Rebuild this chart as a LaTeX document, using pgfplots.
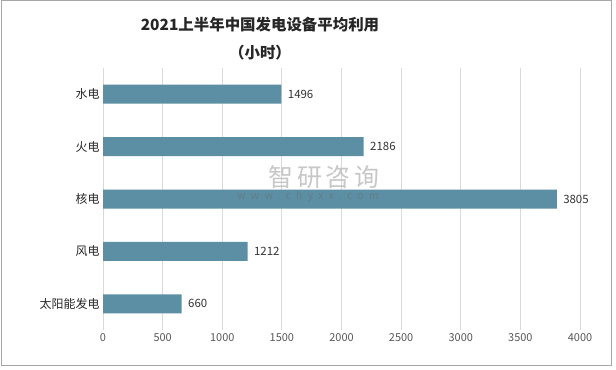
\documentclass[border=0pt]{standalone}
\usepackage{fontspec}
\setmainfont{Carlito}
\newfontfamily\cjk{Noto Sans CJK SC}
\newfontfamily\wm[LetterSpace=14]{Noto Sans CJK SC}
\newfontfamily\wmb[LetterSpace=50]{Noto Sans CJK SC}
\usepackage{pgfplots}
\pgfplotsset{compat=1.18}
\definecolor{barc}{HTML}{5D8FA4}
\definecolor{gridc}{HTML}{D9D9D9}
\definecolor{txt}{HTML}{595959}
\begin{document}
\begin{tikzpicture}[x=1bp,y=1bp]
\useasboundingbox (0,0) rectangle (616,369);
\fill[white] (0,0) rectangle (616,369);
\draw[draw=black!35, line width=1bp] (1,4) rectangle (611,368);
\node[font=\cjk\bfseries\fontsize{15.5}{18}\selectfont, text=black!85] at (260,344) {2021上半年中国发电设备平均利用};
\node[font=\cjk\bfseries\fontsize{15.5}{18}\selectfont, text=black!85] at (260,316) {（小时）};
\begin{axis}[
  at={(103bp,39bp)}, anchor=south west, scale only axis,
  width=477bp, height=262bp,
  xmin=0, xmax=4000, ymin=-0.5, ymax=4.5, y dir=reverse,
  xbar, bar width=19bp,
  xtick={0,500,...,4000}, ytick={0,1,2,3,4},
  yticklabels={水电,火电,核电,风电,太阳能发电},
  yticklabel style={font=\cjk\fontsize{12}{14}\selectfont, text=black!85},
  xticklabel style={font=\cjk\fontsize{11}{12}\selectfont, text=txt},
  axis line style={draw=none}, major tick length=0pt,
  xmajorgrids, grid style={draw=gridc, line width=0.8bp},
  nodes near coords, point meta=x,
  nodes near coords style={font=\cjk\fontsize{11.5}{12}\selectfont, text=black!80, xshift=3bp},
  /pgf/number format/1000 sep={},
  /pgf/number format/assume math mode=true,
]
\addplot[fill=barc, draw=none] coordinates {(1496,0) (2186,1) (3805,2) (1212,3) (660,4)};
\end{axis}
\node[font=\wm\fontsize{25}{26}\selectfont, text=gray!55, opacity=0.8] at (324,192) {智研咨询};
\node[font=\wmb\fontsize{10.5}{11}\selectfont, text=black!60, opacity=0.45] at (308,172) {www.chyxx.com};
\end{tikzpicture}
\end{document}
